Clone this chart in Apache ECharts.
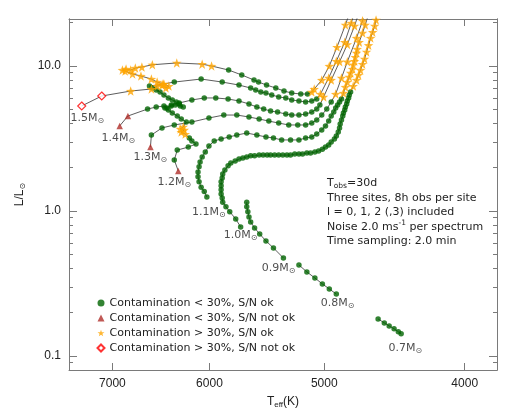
<!DOCTYPE html>
<html><head><meta charset="utf-8">
<script src="https://cdn.jsdelivr.net/npm/echarts@6/dist/echarts.min.js"></script>
<style>html,body{margin:0;padding:0;background:#fff}#c{width:518px;height:414px}</style>
</head><body><div id="c"></div>
<script>
// ---- axis ranges and tick values ----
const teffRange = [3800, 7500];
const lumRange = [0.08, 21.1];
const xTickTeff = [7000, 6000, 5000, 4000];
const yTickLum = [0.1, 1, 10];
const yMinorLum = [0.09, 0.2, 0.3, 0.4, 0.5, 0.6, 0.7, 0.8, 0.9, 2, 3, 4, 5, 6, 7, 8, 9, 20];

// ---- legend categories (flag codes: g, t, s, d) ----
const catNames = {
  g: 'Contamination < 30%, S/N ok',
  t: 'Contamination < 30%, S/N not ok',
  s: 'Contamination > 30%, S/N ok',
  d: 'Contamination > 30%, S/N not ok'
};

// ---- tracks: Teff (K), L (Lsun), flags ----
const m15_teff = [7350,7120,6800,6580,6520,6470,6430,6400,6450,6520,6580,6690,6780,6860,6890,6850,6800,6750,6680,6570,6320,6070,5980,5820,5700,5590,5550,5480,5400,5330,5265,5190,5135,5100,5080,5020,4960,4900,4835,4800];
const m15_lum  = [5.30,6.21,6.72,6.94,7.27,7.39,7.05,7.27,7.51,7.75,8.13,8.53,8.81,9.23,9.38,9.53,9.38,9.68,9.84,10.2,10.5,10.3,10.0,9.38,8.67,8.00,7.75,7.39,7.05,6.72,6.51,6.41,6.41,6.62,6.94,8.00,10.0,13.5,19.2,23.6];
const m15_flag = 'dd' + 'sssssssssssssssssssss' + 'gggggggggg' + 'sssssss';

const m14_teff = [6920,6830,6620,6530,6450,6420,6375,6335,6285,6255,6295,6325,6365,6405,6450,6490,6530,6570,6600,6460,6345,6080,5880,5725,5620,5575,5530,5485,5435,5375,5315,5265,5205,5150,5100,5060,5030,4965,4905,4840,4790,4765];
const m14_lum  = [3.86,4.52,5.05,5.21,5.30,5.13,5.30,5.38,5.30,5.21,5.47,5.65,5.83,6.02,6.31,6.62,6.83,7.05,7.27,7.51,7.75,8.13,7.75,7.39,7.05,6.83,6.62,6.51,6.31,6.12,6.02,5.83,5.74,5.65,5.74,5.92,6.41,8.27,10.8,14.6,19.8,23.6];
const m14_flag = 'tt' + 'ggggggggggggggggg' + 's' + 'gggggggggggggggg' + 'ssssss';

const m13_teff = [6590,6580,6470,6345,6170,6005,5865,5745,5635,5545,5460,5375,5290,5215,5150,5100,5060,5020,4980,4945,4910,4865,4820,4750,4705,4685];
const m13_lum  = [2.76,3.34,3.74,3.92,4.11,4.38,4.59,4.59,4.45,4.31,4.17,4.04,3.92,3.92,3.92,4.04,4.24,4.59,5.05,5.65,6.41,8.27,10.7,15.6,20.5,23.6];
const m13_flag = 't' + 'ggggggggggggggggggg' + 'ssssss';

const m12_teff = [6305,6345,6315,6205,6130,6170,6195,6235,6275,6245,6285,6255,6225,6275,6315,6365,6405,6440,6375,6295,6170,6050,5940,5825,5725,5635,5565,5505,5445,5385,5315,5265,5205,5150,5100,5060,5035,5005,4945,4880,4820,4765,4735];
const m12_lum  = [1.89,2.25,2.63,2.76,2.90,3.04,3.19,3.39,3.50,3.62,3.68,3.80,4.11,4.31,4.52,4.74,4.97,5.13,5.38,5.56,5.83,6.02,6.02,5.92,5.74,5.47,5.21,5.05,4.89,4.81,4.66,4.59,4.59,4.66,4.81,5.05,5.38,6.12,8.00,10.7,14.1,18.9,22.9];
const m12_flag = 't' + 'gggggg' + 'sssss' + 'ggggggggggggggggggggggggg' + 'ssssss';

const m11_teff = [6025,6050,6080,6100,6110,6110,6100,6090,6070,6040,6005,5955,5890,5815,5745,5655,5565,5485,5420,5350,5275,5205,5150,5100,5060,5020,4990,4965,4945,4925,4910,4895,4880,4865,4850,4835,4820,4805,4795,4780,4775,4765,4760,4750,4745,4730,4705,4685,4655];
const m11_lum  = [1.25,1.36,1.46,1.59,1.72,1.86,2.02,2.18,2.36,2.55,2.81,3.04,3.14,3.24,3.34,3.45,3.34,3.24,3.19,3.09,3.09,3.09,3.19,3.24,3.39,3.62,3.86,4.17,4.52,4.81,5.13,5.38,5.65,5.92,6.51,7.16,7.75,8.40,8.95,9.53,10.2,10.8,11.5,12.3,13.1,14.6,16.9,19.2,23.6];
const m11_flag = 'gggggggggggggggggggggggggggggggggg' + 'sssssssssssssss';

const m10_teff = [5710,5755,5810,5845,5875,5880,5890,5890,5890,5890,5880,5875,5855,5825,5800,5760,5725,5690,5655,5620,5585,5545,5510,5475,5445,5410,5375,5340,5305,5275,5240,5205,5175,5140,5110,5075,5045,5015,4990,4965,4945,4920,4905,4890,4880,4875,4865,4855,4850,4840,4835,4825,4820,4810,4805,4795,4775,4750,4735,4720,4705,4690,4675,4660,4645,4630,4615,4605,4580];
const m10_lum  = [0.776,0.881,0.988,1.07,1.15,1.23,1.31,1.40,1.49,1.59,1.69,1.80,1.92,2.05,2.14,2.21,2.28,2.32,2.36,2.40,2.40,2.43,2.43,2.43,2.43,2.43,2.43,2.43,2.43,2.43,2.47,2.47,2.47,2.51,2.51,2.55,2.59,2.67,2.76,2.85,2.99,3.14,3.29,3.50,3.74,3.98,4.24,4.52,4.74,4.97,5.21,5.47,5.74,6.02,6.31,6.62,7.27,8.00,8.67,9.38,10.3,11.2,12.5,13.9,15.6,17.1,18.9,20.8,23.6];
const m10_flag = 'gggggggggggggggggggggggggggggggggggggggggggggggggggggggg' + 'sssssssssssss';

const m09_teff = [5335,5420,5485,5540,5585,5620,5635,5645,5655,5655];
const m09_lum  = [0.474,0.556,0.621,0.694,0.764,0.840,0.909,0.988,1.07,1.15];
const m09_flag = 'gggggggggg';

const m08_teff = [5205,5140,5075,5015,4960,4905];
const m08_lum  = [0.424,0.380,0.345,0.314,0.290,0.267];
const m08_flag = 'gggggg';

const m07_teff = [4590,4545,4510,4475,4445,4425];
const m07_lum  = [0.180,0.169,0.161,0.154,0.147,0.142];
const m07_flag = 'gggggg';

// ---- mass labels ----
const labelText = ['1.5','1.4','1.3','1.2','1.1','1.0','0.9','0.8','0.7'];
const labelTeff = [7285,6935,6590,6345,6005,5710,5375,4895,4395];
const labelLum  = [4.38,3.19,2.36,1.59,0.988,0.683,0.404,0.232,0.113];

// ---- annotation lines ----
const noteLines = ['T{sub|obs}=30d', 'Three sites, 8h obs per site', 'l = 0, 1, 2 (,3) included', 'Noise 2.0 ms{sup|-1} per spectrum', 'Time sampling: 2.0 min'];

const tracks = [
  [m15_teff, m15_lum, m15_flag], [m14_teff, m14_lum, m14_flag], [m13_teff, m13_lum, m13_flag],
  [m12_teff, m12_lum, m12_flag], [m11_teff, m11_lum, m11_flag], [m10_teff, m10_lum, m10_flag],
  [m09_teff, m09_lum, m09_flag], [m08_teff, m08_lum, m08_flag], [m07_teff, m07_lum, m07_flag]
];

const lg = Math.log10;
const FONT = "'Liberation Sans', Arial, sans-serif";
const FONT2 = "'DejaVu Sans', sans-serif";
const TXT = '#222';
const FRAME = '#7a7a7a';

const cat = {g: [], t: [], s: [], d: []};
const lineSeries = [];
tracks.forEach(([T, L, F], k) => {
  if (T.length !== L.length || T.length !== F.length) console.error('length mismatch track', k, T.length, L.length, F.length);
  const pts = T.map((t, i) => [lg(t), lg(L[i])]);
  pts.forEach((p, i) => cat[F[i]].push(p));
  lineSeries.push({
    type: 'line', data: pts, symbol: 'none', showSymbol: false, silent: true, clip: true,
    lineStyle: {color: '#333', width: 0.8}, z: 1, animation: false
  });
});

const starPath = 'path://M0,-10L2.35,-3.24L9.51,-3.09L3.8,1.24L5.88,8.09L0,4L-5.88,8.09L-3.8,1.24L-9.51,-3.09L-2.35,-3.24Z';

const scatterSeries = [
  {type: 'scatter', name: catNames.g, data: cat.g, symbol: 'circle', symbolSize: 5.5, itemStyle: {color: '#006400'}, z: 2},
  {type: 'scatter', name: catNames.t, data: cat.t, symbol: 'triangle', symbolSize: 6.5, itemStyle: {color: '#b0302a'}, z: 3},
  {type: 'scatter', name: catNames.s, data: cat.s, symbol: starPath, symbolSize: 9.5, itemStyle: {color: '#ffa500'}, z: 4},
  {type: 'scatter', name: catNames.d, data: cat.d, symbol: 'diamond', symbolSize: 8, itemStyle: {color: '#ffffff', borderColor: '#ff0000', borderWidth: 1.2}, z: 5}
];

const labelSeries = {
  type: 'scatter', silent: true, symbolSize: 0, z: 6,
  data: labelText.map((s, i) => [lg(labelTeff[i]), lg(labelLum[i]), s]),
  label: {
    show: true, position: 'inside', color: TXT, fontSize: 11, fontFamily: FONT2, lineHeight: 14,
    formatter: p => p.data[2] + 'M{s|\u2299}',
    rich: {s: {fontSize: 8, lineHeight: 8, verticalAlign: 'bottom', color: TXT, fontFamily: FONT2}}
  }
};

const xBase = {
  type: 'value', min: lg(teffRange[0]), max: lg(teffRange[1]), inverse: true,
  splitLine: {show: false},
  axisLine: {show: true, onZero: false, lineStyle: {color: FRAME, width: 1}}
};
const yBase = {
  type: 'value', min: lg(lumRange[0]), max: lg(lumRange[1]),
  splitLine: {show: false},
  axisLine: {show: true, onZero: false, lineStyle: {color: FRAME, width: 1}}
};
const xTickVals = xTickTeff.map(lg);
const yTickVals = yTickLum.map(lg);
const yMinorVals = yMinorLum.map(lg);

const option = {
  animation: false,
  backgroundColor: '#fff',
  grid: {left: 69, right: 21, top: 19, bottom: 44, containLabel: false},
  xAxis: [
    Object.assign({}, xBase, {
      position: 'bottom',
      axisTick: {show: true, inside: true, length: 7, customValues: xTickVals, lineStyle: {color: FRAME}},
      axisLabel: {show: true, customValues: xTickVals, formatter: v => String(Math.round(Math.pow(10, v) / 10) * 10), margin: 8, color: TXT, fontSize: 12, fontFamily: FONT},
      name: 'T{sub|eff}(K)', nameLocation: 'middle', nameGap: 21,
      nameTextStyle: {color: TXT, fontSize: 12, fontFamily: FONT, lineHeight: 14,
        rich: {sub: {fontSize: 8, lineHeight: 6, verticalAlign: 'bottom', color: TXT, fontFamily: FONT}}}
    }),
    Object.assign({}, xBase, {
      position: 'top',
      axisTick: {show: true, inside: true, length: 7, customValues: xTickVals, lineStyle: {color: FRAME}},
      axisLabel: {show: false}
    })
  ],
  yAxis: [
    Object.assign({}, yBase, {
      position: 'left',
      axisTick: {show: true, inside: true, length: 8, customValues: yTickVals, lineStyle: {color: FRAME}},
      axisLabel: {show: true, customValues: yTickVals, formatter: v => Math.pow(10, v).toFixed(1), margin: 8, color: TXT, fontSize: 12, fontFamily: FONT},
      name: 'L/L{sub|\u2299}', nameLocation: 'middle', nameRotate: 90, nameGap: 42,
      nameTextStyle: {color: TXT, fontSize: 12, fontFamily: FONT, lineHeight: 14,
        rich: {sub: {fontSize: 8, lineHeight: 6, verticalAlign: 'bottom', color: TXT, fontFamily: FONT2}}}
    }),
    Object.assign({}, yBase, {
      position: 'left',
      axisTick: {show: true, inside: true, length: 4, customValues: yMinorVals, lineStyle: {color: FRAME}},
      axisLabel: {show: false}
    }),
    Object.assign({}, yBase, {
      position: 'right',
      axisTick: {show: true, inside: true, length: 8, customValues: yTickVals, lineStyle: {color: FRAME}},
      axisLabel: {show: false}
    }),
    Object.assign({}, yBase, {
      position: 'right',
      axisTick: {show: true, inside: true, length: 4, customValues: yMinorVals, lineStyle: {color: FRAME}},
      axisLabel: {show: false}
    })
  ],
  legend: {
    orient: 'vertical', left: 91.5, top: 291, itemWidth: 7, itemHeight: 7, itemGap: 1,
    data: [catNames.g, catNames.t, catNames.s, catNames.d],
    textStyle: {color: TXT, fontSize: 11, fontFamily: FONT2, lineHeight: 14},
    selectedMode: false
  },
  graphic: [{
    type: 'text', left: 327, top: 176, silent: true,
    style: {
      text: noteLines.join('\n'), fill: TXT, fontSize: 11, fontFamily: FONT2, lineHeight: 14.5,
      rich: {
        sub: {fontSize: 7.5, lineHeight: 6, verticalAlign: 'bottom', fill: TXT, fontFamily: FONT2},
        sup: {fontSize: 7.5, lineHeight: 8, verticalAlign: 'top', fill: TXT, fontFamily: FONT2}
      }
    }
  }],
  series: lineSeries.concat(scatterSeries, [labelSeries])
};

const chart = echarts.init(document.getElementById('c'), null, {renderer: 'canvas'});
chart.setOption(option);
</script>
</body></html>
